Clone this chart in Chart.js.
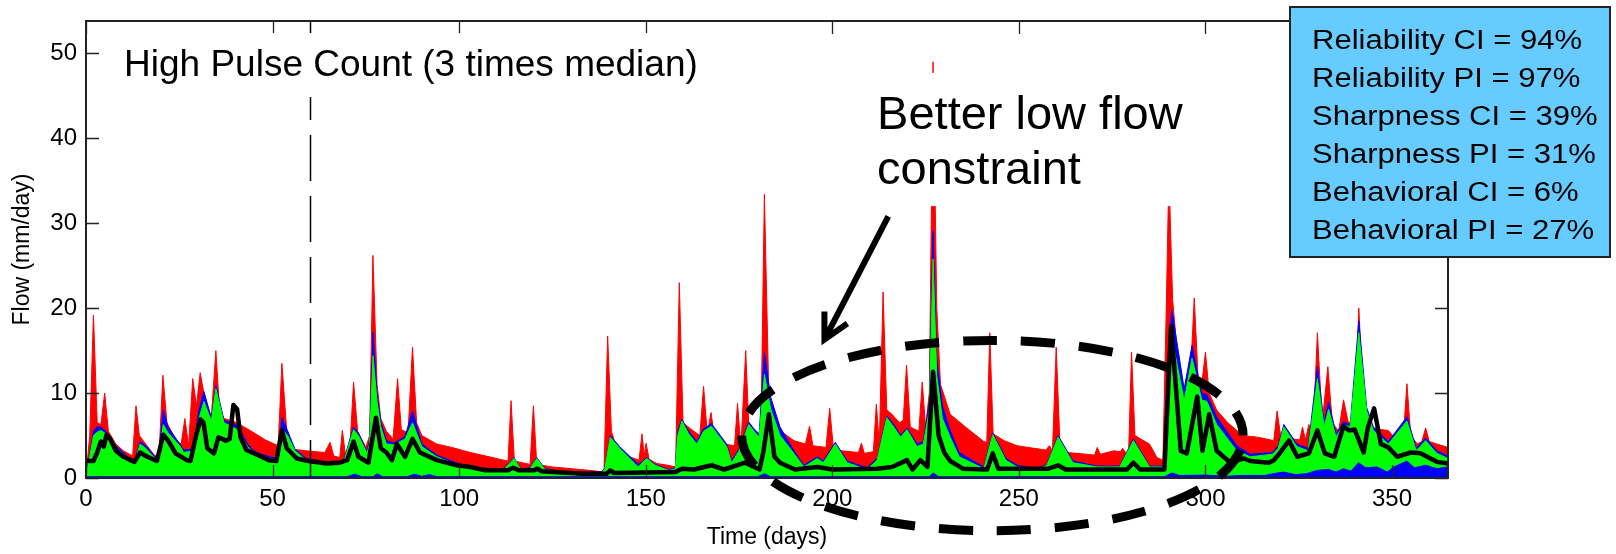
<!DOCTYPE html>
<html>
<head>
<meta charset="utf-8">
<title>High Pulse Count</title>
<script src="https://cdn.jsdelivr.net/npm/chart.js@4.4.0/dist/chart.umd.min.js"></script>
<style>
  html, body { margin: 0; padding: 0; background: #fff; }
  #wrap { width: 1616px; height: 554px; }
</style>
</head>
<body>
<div id="wrap"><canvas id="chartFlow" width="1616" height="554"></canvas></div>
<script>
// Axis ticks
const xTicks = [0, 50, 100, 150, 200, 250, 300, 350];
const yTicks = [0, 10, 20, 30, 40, 50];

// Observed flow (black line), [day, mm/day]
const observed = [
  [0,2.1],[1,2.0],[2,2.0],[3,3.0],[4,4.3],[4.8,3.7],[5.5,5.1],[6.5,4.6],[8,3.2],[10,2.5],[12,2.1],[13,1.9],
  [14.5,3.0],[16,2.6],[19,2.0],[20.7,5.1],[22,4.4],[24,2.9],[27,2.1],[28,2.0],[29.5,5.0],[30.7,6.9],[31.5,6.5],
  [32.5,3.5],[34.3,2.9],[35.5,4.8],[37.5,4.4],[38.5,4.6],[39.5,8.6],[40.5,8.1],[41.4,4.8],[43,3.3],[46,2.7],
  [49,2.1],[51,2.0],[52.5,5.6],[53.8,3.5],[56.5,2.3],[59.6,2.0],[64.5,1.7],[68,1.8],[70,2.1],[71.7,4.3],[73,2.5],
  [75.7,1.8],[77.7,7.1],[79,3.5],[80.5,3.0],[82,2.1],[83.3,4.0],[85.5,2.5],[87.5,4.6],[89.5,3.0],[94,2.1],
  [99.4,1.5],[103,1.3],[107,0.9],[113,0.9],[114.5,1.2],[116,0.9],[120,0.9],[121,1.1],[122,0.8],[133,0.5],
  [139.5,0.5],[140.5,0.9],[141.5,0.6],[158,0.7],[159.7,1.1],[163,1.0],[167.6,1.5],[171,1.0],[176.6,1.8],
  [180.5,1.0],[181.5,3.0],[183,7.5],[184.5,2.5],[186,1.8],[190,1.0],[196,1.3],[200,1.0],[212,1.1],[216,1.3],
  [220,2.1],[221.5,1.0],[223.6,2.1],[225.5,1.3],[227,12.5],[228.5,5.0],[230,3.0],[231.6,2.0],[235,1.1],
  [241.5,1.0],[243,2.9],[244.5,1.1],[258,1.1],[260.5,1.5],[262.5,1.0],[279,1.0],[280.7,1.8],[282.5,1.0],
  [289,1.0],[290.8,17.9],[293.4,3.2],[295,2.9],[297.8,9.6],[299.2,3.2],[301,7.5],[303,3.2],[306.7,1.8],
  [310.3,2.3],[312,2.0],[317,1.8],[318.3,2.1],[319.5,2.7],[322.4,4.4],[324.6,2.5],[327.7,2.9],[330,5.6],
  [332,2.9],[334.5,2.5],[337,6.1],[338.5,5.6],[340,5.7],[342.4,3.0],[343.5,5.9],[345.2,8.2],[347,4.0],
  [349,3.6],[351.4,2.5],[355,3.0],[357.6,2.9],[362,1.9],[365,1.7]
];

// Upper bound of the red band
const redUpper = [
  [0,0.3],[1,5],[2,19.2],[3,6.5],[4,6.3],[5,10],[6,5.5],[8,4],[10,3.2],[12.5,2.6],[13.4,8.5],[14.3,5],[16,4],
  [18.5,2.6],[19.6,3],[20.6,12.1],[21.7,6.5],[24,4.5],[25.5,4],[26.5,7],[27.5,3.8],[28.6,11.7],[29.6,8.5],
  [30.6,12.4],[31.8,9.5],[33.6,7.2],[34.8,15],[35.8,8],[37,7],[40,6.6],[44,5.6],[48,4.5],[51.5,3.8],[52.5,13.5],
  [53.8,5.5],[55,3.4],[59,3.2],[64,3.0],[65.4,4.2],[66.4,2.6],[68,2.4],[68.7,5.6],[69.6,2.5],[70.6,2.6],
  [71.7,11.3],[72.8,5.5],[75,3.6],[76,5],[76.9,26.2],[78,11],[79,7],[80.5,5.5],[82.3,4.6],[83.5,11.7],[84.5,5.7],
  [86.3,5.3],[87.5,15.4],[88.6,6.5],[90,5],[92,4.5],[94,4],[98,3.6],[103,3],[108,2.5],[112,2.1],[113.1,2],
  [113.9,9.1],[114.8,2],[119,1.6],[119.9,8.5],[120.8,1.6],[125,1.3],[130,1.1],[135,0.9],[138.8,0.7],
  [139.8,16.7],[140.8,5.5],[142,3.8],[145,2.6],[148.2,2.1],[149,5.2],[149.6,2.6],[150.1,4.1],[150.9,2.2],
  [153,1.7],[156,1.5],[158,1.3],[159,23],[160,6.5],[162,5.8],[164.5,5],[165.5,10.8],[166.5,5.2],[167.5,7.7],
  [168.5,4.6],[171,4],[173.8,3.8],[174.6,8.8],[175.5,3.6],[176.8,15],[177.8,4.2],[180.8,3.5],[181.8,33.4],
  [183,9.5],[185,5.9],[189.7,4.4],[192.8,4],[193.9,6.1],[194.8,3.8],[198.3,3.6],[199.3,8.2],[200.3,3.5],
  [202.5,3.2],[207,3],[207.8,4.1],[208.6,2.9],[211,3.1],[211.8,8.7],[212.6,4],[213.6,21.9],[214.6,8],[216,7.5],
  [218,6.5],[219,6.8],[219.9,13.3],[220.9,6],[223.2,5.5],[224.1,11.3],[225,6],[226,10],[227,49],[228,20],
  [229,11],[231.6,7.5],[236,5.9],[240.6,4.3],[241.4,4.2],[242.2,17.1],[243.1,5.2],[246,4.4],[249.5,3.8],
  [254,3.5],[257.2,3.3],[258.2,3.8],[259,3.2],[260,15.4],[261,4],[263,3],[268,2.8],[270.3,2.7],[271,3.6],
  [271.8,2.8],[275.5,3.2],[277.2,3.1],[277.8,3.5],[278.6,3.0],[279.4,3.0],[280.2,14.8],[281.1,5],[283,4.5],
  [285,4],[287,2.4],[288.6,2.1],[289.5,20],[290.2,36],[291.2,21],[293,12],[295,8.5],[296.2,14],[297,21.2],
  [298,12],[299,11],[300,14.8],[301,10],[303,8],[306,6.5],[310,5],[314,4.8],[318.3,4.4],[319.2,7.9],[320.2,4.8],
  [323,4.6],[325.3,4.5],[326,6],[326.8,4.5],[327.7,6.3],[328.8,4.8],[330,17.1],[331.3,6.5],[332.8,13.1],
  [334,6.5],[335.7,5.5],[337,9.2],[338.3,6.5],[340,7],[341.1,20],[342.3,9],[344,6],[347,5.7],[349,5.6],
  [351,4.6],[353,4.8],[354,11.1],[355,5],[356.8,4.0],[358,4.3],[359,5.9],[360,4.3],[362,4],[365,3.6]
];

// Blue and green bands share the same days
const bandDays = [
  0,1,2,3,4,5.6,8,10,12.9,14.5,16,18.5,19.5,20.7,22,25.3,26.2,28.8,30.2,31.6,33.6,34.8,37,40.6,43.3,45,47,50,
  51.5,52.5,54,56,59,64,67,69,71.7,73,75.3,76,76.9,78,79,80.5,82.5,85.5,87.5,90,94,98,103,112,114.7,116.5,119,
  120.8,123,128,138,139,140.5,143,148,149,150.3,152.5,156,157.9,158.6,159.7,161.5,163.7,165.5,167.6,171.7,173,
  175,177.6,179,180.4,181.8,183.5,186,189.7,192.4,196,197.6,200.8,204,209.3,212,214.6,216.5,218.3,220,222.7,
  224.4,226,227,228,229.5,231.6,234,240.6,243,246.5,249.5,255,257.5,260.5,264.5,271,277,280.7,285,288.8,289.8,
  291,294.3,296.4,299,300.4,303,308.4,312,318,319.5,321,324.5,327.5,330,331.8,333,335,337,338.8,341.1,343.2,
  345,349,354,356.5,359,362,365
];
const blueUpper = [
  0.3,2.8,5.5,6.0,6.0,5.4,3.8,3.0,1.8,4.3,3.8,2.5,2.8,8.0,6.0,3.9,3.3,3.4,7.9,10.2,7.0,10.9,6.8,6.2,4.0,3.2,2.8,2.4,
  2.4,7.1,5.6,3.4,2.3,1.9,2.0,2.0,6.0,5.3,3.1,4.5,17.2,10.0,6.6,4.4,4.1,4.9,7.9,4.0,2.7,2.0,1.2,1.1,2.4,1.1,1.2,
  2.4,1.1,0.7,0.7,1.1,5.0,3.7,1.6,1.9,2.4,1.6,1.0,1.1,5.5,6.9,5.5,4.3,5.8,6.4,4.0,2.0,
  3.4,6.6,5.8,5.2,14.8,9.5,6.0,3.2,1.5,2.5,2.0,4.2,2.0,1.2,2.3,7.3,6.3,5.0,5.9,4.0,
  4.3,9,29.1,14,8.5,5.6,3.0,1.3,5.3,2.3,1.5,1.1,1.6,5.0,2.0,1.4,1.4,4.6,1.4,1.4,13,
  19.8,10.5,15.6,10.0,9.8,7.2,3.8,2.8,3.0,3.8,6.3,4.0,3.5,13.1,6.5,9.0,5.2,6.6,6.3,18.5,8.3,
  6.0,4.3,7.2,3.5,4.7,3.2,2.6
];
const greenUpper = [
  0.2,2.5,5.0,5.4,5.6,5.1,3.5,2.8,1.6,4.0,3.5,2.3,2.5,6.3,5.3,3.7,3.0,3.2,6.9,9.0,6.7,10.5,6.5,5.7,3.7,3.0,2.6,2.2,
  2.2,5.8,5.0,3.2,2.1,1.7,1.8,1.8,5.7,5.0,2.9,4.0,14.4,9.0,6.0,4.0,3.9,4.6,6.5,3.7,2.5,1.8,1.0,1.0,2.3,1.0,1.1,
  2.3,1.0,0.6,0.6,1.0,4.8,3.5,1.3,1.8,2.3,1.5,0.9,1.0,5.0,6.7,5.2,4.0,5.5,6.1,3.7,1.8,
  3.2,6.3,5.5,4.8,12.2,8.1,5.0,2.9,1.3,2.3,1.8,4.0,1.8,1.0,2.1,7.1,6.0,4.8,5.7,3.7,
  4.0,8,25.8,12,7,4.8,2.5,1.1,5.1,2.1,1.3,1.0,1.5,4.8,1.8,1.3,1.3,4.4,1.3,1.3,10,
  16.5,9.1,14.1,9.2,9.0,6.3,3.2,2.5,2.8,3.5,6.0,3.7,3.2,11.7,6.0,8.1,4.8,6.3,6.0,17.1,7.9,
  5.6,4.0,6.7,3.2,4.4,2.9,2.3
];

// Thin blue strip along the bottom
const blueLower = [
  [0,0.15],[70,0.15],[72,0.45],[74,0.15],[77,0.15],[78,0.5],[79.5,0.15],[86,0.15],[88,0.45],[90,0.2],[92,0.4],
  [94,0.15],[180,0.15],[181.8,0.5],[183.5,0.15],[226,0.15],[227,0.6],[228.5,0.15],[289,0.15],[291,0.6],
  [293,0.3],[300,0.35],[305,0.2],[310,0.3],[316,0.3],[318,0.5],[321,0.7],[324,0.4],[327,0.5],[330,0.9],
  [333,1.0],[335,0.7],[337,1.1],[339,0.8],[341,1.8],[343,1.2],[346,1.3],[348.7,0.7],[350.5,1.3],[354,2.0],
  [356,1.2],[359,1.5],[362,1.1],[365,1.3]
];

// Annotations (in data units)
const pulseStartDay = 60;
const pulseNote = { text: 'High Pulse Count (3 times median)', day: 10.2, flow: 48.5 };
const lowFlowNote = { lines: ['Better low flow', 'constraint'], day: 212, flow: [41.1, 34.6] };
const arrowNote = { from: [215, 30.8], to: [197.9, 16.3] };
const focusEllipse = { day: 242.9, flow: 5.0, dayRadius: 67.2, flowRadius: 11.2 };
const statsLines = [
  'Reliability CI = 94%',
  'Reliability PI = 97%',
  'Sharpness CI = 39%',
  'Sharpness PI = 31%',
  'Behavioral CI = 6%',
  'Behavioral PI = 27%'
];

const FONT = '"Liberation Sans", Arial, sans-serif';
Chart.defaults.font.family = FONT;
Chart.defaults.color = '#000';

function toPoints(pairs) {
  return pairs.map(p => ({ x: p[0], y: p[1] }));
}

function bandPoints(values) {
  return bandDays.map((d, i) => ({ x: d, y: values[i] }));
}

function areaSet(label, data, color, order) {
  return {
    label: label,
    data: data,
    borderColor: color,
    backgroundColor: color,
    borderWidth: 1,
    pointRadius: 0,
    tension: 0,
    fill: 'origin',
    order: order
  };
}

const notesPlugin = {
  id: 'notes',
  afterDatasetsDraw(chart) {
    const { ctx, chartArea: a, scales: { x, y } } = chart;
    ctx.save();

    // dashed marker at the start of the pulse window
    const mx = Math.round(x.getPixelForValue(pulseStartDay)) + 0.5;
    ctx.strokeStyle = '#000';
    ctx.lineWidth = 1.5;
    ctx.setLineDash([46, 15]);
    ctx.lineDashOffset = 8;
    ctx.beginPath();
    ctx.moveTo(mx, a.top);
    ctx.lineTo(mx, a.bottom);
    ctx.stroke();
    ctx.setLineDash([]);

    // inward tick marks on all four sides
    ctx.strokeStyle = '#222';
    ctx.lineWidth = 1.3;
    ctx.beginPath();
    xTicks.forEach(v => {
      const p = Math.round(x.getPixelForValue(v)) + 0.5;
      ctx.moveTo(p, a.bottom); ctx.lineTo(p, a.bottom - 13);
      ctx.moveTo(p, a.top); ctx.lineTo(p, a.top + 13);
    });
    yTicks.forEach(v => {
      const p = Math.round(y.getPixelForValue(v)) + 0.5;
      ctx.moveTo(a.left, p); ctx.lineTo(a.left + 13, p);
      ctx.moveTo(a.right, p); ctx.lineTo(a.right - 13, p);
    });
    ctx.stroke();

    ctx.lineWidth = 2;
    ctx.strokeStyle = '#222';
    ctx.strokeRect(a.left, a.top, a.right - a.left, a.bottom - a.top);
    ctx.restore();
  },
  afterDraw(chart) {
    const { ctx, scales: { x, y } } = chart;
    ctx.save();

    // "High Pulse Count" label on a white backing
    ctx.font = '37px ' + FONT;
    ctx.textBaseline = 'middle';
    let tx = x.getPixelForValue(pulseNote.day);
    let ty = y.getPixelForValue(pulseNote.flow);
    let w = ctx.measureText(pulseNote.text).width;
    ctx.fillStyle = '#fff';
    ctx.fillRect(tx - 8, ty - 33, w + 16, 64);
    ctx.fillStyle = '#000';
    ctx.fillText(pulseNote.text, tx, ty);

    // "Better low flow constraint"
    ctx.font = '47px ' + FONT;
    ctx.textBaseline = 'alphabetic';
    tx = x.getPixelForValue(lowFlowNote.day);
    const b1 = y.getPixelForValue(lowFlowNote.flow[0]);
    const b2 = y.getPixelForValue(lowFlowNote.flow[1]);
    w = ctx.measureText(lowFlowNote.lines[0]).width;
    ctx.fillStyle = '#fff';
    ctx.fillRect(tx - 7, b1 - 56, w + 20, b2 - b1 + 78);
    ctx.fillStyle = '#000';
    ctx.fillText(lowFlowNote.lines[0], tx, b1);
    ctx.fillText(lowFlowNote.lines[1], tx, b2);

    // arrow
    const x0 = x.getPixelForValue(arrowNote.from[0]), y0 = y.getPixelForValue(arrowNote.from[1]);
    const x1 = x.getPixelForValue(arrowNote.to[0]), y1 = y.getPixelForValue(arrowNote.to[1]);
    const ang = Math.atan2(y0 - y1, x0 - x1);
    ctx.strokeStyle = '#000';
    ctx.lineWidth = 6;
    ctx.lineCap = 'butt';
    ctx.beginPath();
    ctx.moveTo(x0, y0);
    ctx.lineTo(x1, y1);
    ctx.moveTo(x1 + 28 * Math.cos(ang + 0.48), y1 + 28 * Math.sin(ang + 0.48));
    ctx.lineTo(x1, y1);
    ctx.lineTo(x1 + 28 * Math.cos(ang - 0.48), y1 + 28 * Math.sin(ang - 0.48));
    ctx.stroke();

    // dashed ellipse around the low-flow period
    const cx = x.getPixelForValue(focusEllipse.day);
    const cy = y.getPixelForValue(focusEllipse.flow);
    const rx = x.getPixelForValue(focusEllipse.day + focusEllipse.dayRadius) - cx;
    const ry = cy - y.getPixelForValue(focusEllipse.flow + focusEllipse.flowRadius);
    ctx.lineWidth = 9;
    ctx.setLineDash([34, 24]);
    ctx.lineDashOffset = 43;
    ctx.beginPath();
    ctx.ellipse(cx, cy, rx, ry, 0, 0, Math.PI * 2);
    ctx.stroke();
    ctx.setLineDash([]);

    // statistics box
    ctx.fillStyle = '#66ccff';
    ctx.fillRect(1290, 7, 320, 250);
    ctx.strokeStyle = '#222';
    ctx.lineWidth = 2;
    ctx.strokeRect(1290, 7, 320, 250);
    ctx.fillStyle = '#000';
    ctx.font = '27px ' + FONT;
    ctx.textBaseline = 'alphabetic';
    statsLines.forEach((line, i) => {
      ctx.save();
      ctx.translate(1312, 49 + i * 38);
      ctx.scale(1.15, 1);
      ctx.fillText(line, 0, 0);
      ctx.restore();
    });

    ctx.restore();
  }
};

function renderFlowChart() {
  const ctx = document.getElementById('chartFlow');
  new Chart(ctx, {
    type: 'line',
    data: {
      datasets: [
        {
          label: 'Observed',
          data: toPoints(observed),
          borderColor: '#000',
          borderWidth: 4.5,
          borderJoinStyle: 'round',
          pointRadius: 0,
          tension: 0,
          fill: false,
          order: 1
        },
        areaSet('Lower', toPoints(blueLower), '#0000ff', 2),
        areaSet('Green', bandPoints(greenUpper), '#00ff00', 3),
        areaSet('Blue', bandPoints(blueUpper), '#0000ff', 4),
        areaSet('Red', toPoints(redUpper), '#ff0000', 5)
      ]
    },
    options: {
      responsive: false,
      animation: false,
      devicePixelRatio: 1,
      layout: { padding: { top: 13, right: 168, left: 0, bottom: 0 } },
      plugins: {
        legend: { display: false },
        tooltip: { enabled: false }
      },
      scales: {
        x: {
          type: 'linear',
          min: 0,
          max: 365,
          afterBuildTicks: axis => { axis.ticks = xTicks.map(v => ({ value: v })); },
          afterFit: axis => { axis.height = 76; },
          grid: { display: false, drawTicks: false },
          border: { display: false },
          ticks: { font: { size: 24, lineHeight: 1 }, padding: 9, maxRotation: 0, autoSkip: false },
          title: { display: true, text: 'Time (days)', font: { size: 23 }, padding: { top: 0, bottom: 3 } }
        },
        y: {
          min: 0,
          max: 53.8,
          afterBuildTicks: axis => { axis.ticks = yTicks.map(v => ({ value: v })); },
          afterFit: axis => { axis.width = 86; },
          grid: { display: false, drawTicks: false },
          border: { display: false },
          ticks: { font: { size: 24, lineHeight: 1 }, padding: 9 },
          title: { display: true, text: 'Flow (mm/day)', font: { size: 23 }, padding: { top: 9, bottom: 0 } }
        }
      }
    },
    plugins: [notesPlugin]
  });
}

renderFlowChart();
</script>
</body>
</html>
